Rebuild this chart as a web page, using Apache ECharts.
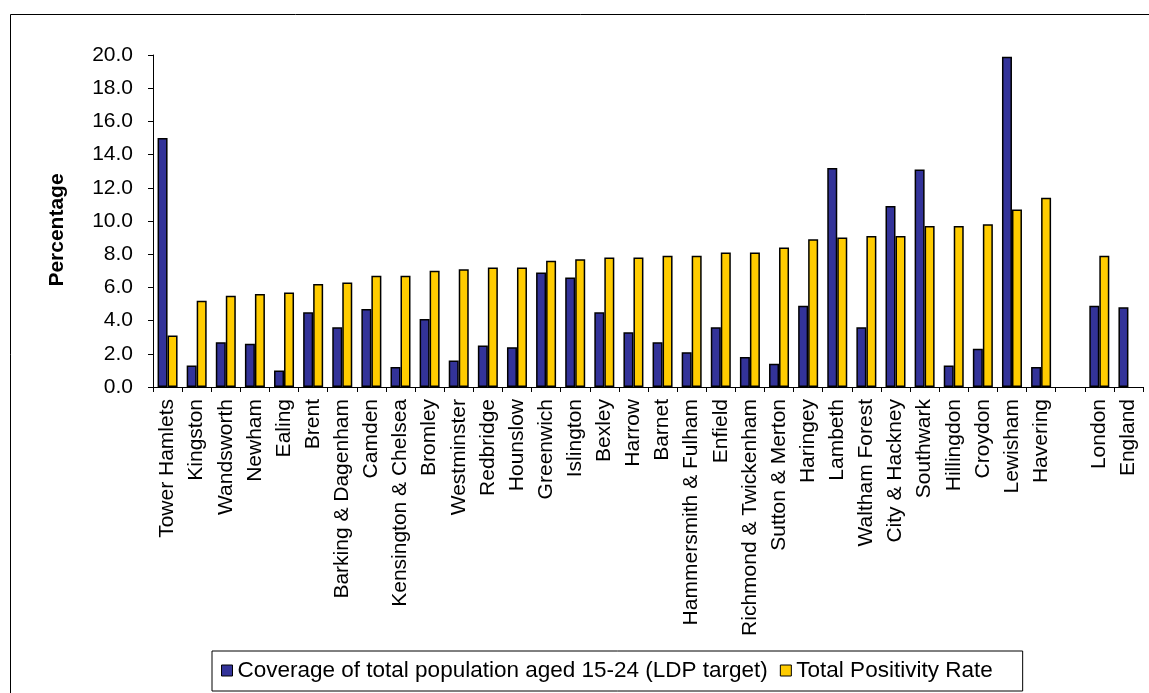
<!DOCTYPE html>
<html>
<head>
<meta charset="utf-8">
<script src="https://cdn.jsdelivr.net/npm/echarts@6/dist/echarts.min.js"></script>
<style>
  html, body { margin: 0; padding: 0; background: #fff; }
  #chart { width: 1149px; height: 693px; }
</style>
</head>
<body>
<div id="chart"></div>
<script>
// Boroughs, ordered by positivity rate, then a spacer and the London / England totals
const categories = [
  'Tower Hamlets', 'Kingston', 'Wandsworth', 'Newham', 'Ealing', 'Brent',
  'Barking & Dagenham', 'Camden', 'Kensington & Chelsea', 'Bromley', 'Westminster',
  'Redbridge', 'Hounslow', 'Greenwich', 'Islington', 'Bexley', 'Harrow', 'Barnet',
  'Hammersmith & Fulham', 'Enfield', 'Richmond & Twickenham', 'Sutton & Merton',
  'Haringey', 'Lambeth', 'Waltham Forest', 'City & Hackney', 'Southwark',
  'Hillingdon', 'Croydon', 'Lewisham', 'Havering', '', 'London', 'England'
];

// Coverage of total population aged 15-24 (%)
const coverage = [
  15.0, 1.3, 2.7, 2.6, 1.0, 4.5,
  3.6, 4.7, 1.2, 4.1, 1.6,
  2.5, 2.4, 6.9, 6.6, 4.5, 3.3, 2.7,
  2.1, 3.6, 1.8, 1.4,
  4.9, 13.2, 3.6, 10.9, 13.1,
  1.3, 2.3, 19.9, 1.2, null, 4.9, 4.8
];

// Total positivity rate (%)
const positivity = [
  3.1, 5.2, 5.5, 5.6, 5.7, 6.2,
  6.3, 6.7, 6.7, 7.0, 7.1,
  7.2, 7.2, 7.6, 7.7, 7.8, 7.8, 7.9,
  7.9, 8.1, 8.1, 8.4,
  8.9, 9.0, 9.1, 9.1, 9.7,
  9.7, 9.8, 10.7, 11.4, null, 7.9, null
];

const seriesNames = ['Coverage of total population aged 15-24 (LDP target)', 'Total Positivity Rate'];
const yTicks = { min: 0, max: 20, interval: 2 };

const chart = echarts.init(document.getElementById('chart'), null, { renderer: 'canvas' });

const barStyle = (color) => ({
  color: color,
  borderColor: '#000',
  borderWidth: 1.5
});

chart.setOption({
  backgroundColor: '#fff',
  animation: false,
  textStyle: { fontFamily: 'Liberation Sans, Arial, sans-serif', color: '#000' },
  graphic: [{
    type: 'rect',
    shape: { x: 10.5, y: 14.5, width: 1300, height: 900 },
    style: { fill: 'none', stroke: '#000', lineWidth: 1 },
    silent: true,
    z: -10
  }],
  grid: {
    left: 153, right: 6, top: 55, bottom: 306,
    containLabel: false,
    outerBoundsMode: 'none'
  },
  legend: {
    left: 212, top: 651,
    orient: 'horizontal',
    data: seriesNames,
    icon: 'rect',
    itemWidth: 11, itemHeight: 11,
    itemGap: 12,
    padding: [8, 30, 9, 9],
    borderColor: '#000', borderWidth: 1,
    textStyle: { fontSize: 22.5, color: '#000', fontFamily: 'Liberation Sans, Arial, sans-serif' },
    itemStyle: { borderColor: '#000', borderWidth: 1 }
  },
  xAxis: {
    type: 'category',
    data: categories,
    boundaryGap: true,
    axisLine: { lineStyle: { color: '#000', width: 1 } },
    axisTick: { show: true, interval: 0, length: 5, inside: false, lineStyle: { color: '#000' } },
    axisLabel: {
      interval: 0, rotate: 90, margin: 12,
      fontSize: 21, color: '#000',
      fontFamily: 'Liberation Sans, Arial, sans-serif'
    },
    splitLine: { show: false }
  },
  yAxis: {
    type: 'value',
    min: yTicks.min, max: yTicks.max, interval: yTicks.interval,
    name: 'Percentage',
    nameLocation: 'middle',
    nameGap: 85,
    nameRotate: 90,
    nameTextStyle: {
      fontSize: 21, fontWeight: 'bold', color: '#000',
      fontFamily: 'Liberation Sans, Arial, sans-serif',
      padding: [0, 18, 0, 0]
    },
    axisLine: { show: true, lineStyle: { color: '#000', width: 1 } },
    axisTick: { show: true, length: 5, lineStyle: { color: '#000' } },
    axisLabel: {
      margin: 20, fontSize: 21, color: '#000',
      fontFamily: 'Liberation Sans, Arial, sans-serif',
      formatter: (v) => v.toFixed(1)
    },
    splitLine: { show: false }
  },
  series: [
    {
      name: seriesNames[0], type: 'bar', data: coverage,
      barWidth: 10, barGap: '0%',
      itemStyle: barStyle('#333399')
    },
    {
      name: seriesNames[1], type: 'bar', data: positivity,
      barWidth: 10, barGap: '0%',
      itemStyle: barStyle('#FFCC00')
    }
  ]
});
</script>
</body>
</html>
